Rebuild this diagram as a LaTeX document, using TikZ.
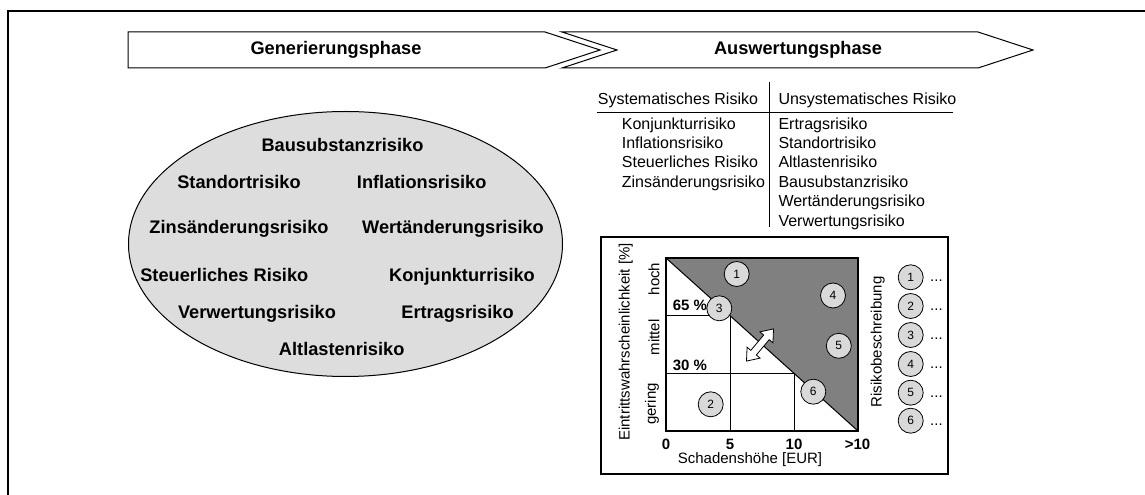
\documentclass[tikz,border=0pt]{standalone}
\usepackage{fontspec}
\setmainfont{Liberation Sans}
\usetikzlibrary{shapes.geometric}
\definecolor{ellgray}{RGB}{221,221,221}
\definecolor{circgray}{RGB}{217,217,217}
\definecolor{zonegray}{RGB}{128,128,128}
\begin{document}
\begin{tikzpicture}[x=1bp,y=-1bp,
  ellbold/.style={font=\fontsize{18.2bp}{20bp}\selectfont\bfseries, inner sep=0, anchor=base},
  phasetext/.style={font=\fontsize{18.2bp}{20bp}\selectfont\bfseries, inner sep=0},
  tabtext/.style={font=\fontsize{16bp}{18bp}\selectfont, inner sep=0, anchor=base west},
  charttext/.style={font=\fontsize{15bp}{17bp}\selectfont, inner sep=0},
  chartbold/.style={font=\fontsize{15bp}{17bp}\selectfont\bfseries, inner sep=0},
  riskcirc/.style={circle, draw, line width=0.8bp, fill=circgray, minimum size=25bp, inner sep=0,
    font=\fontsize{12bp}{12bp}\selectfont},
  thinline/.style={line width=1bp},
]
\useasboundingbox (0,0) rectangle (1145,495);

% outer frame (top and left edges)
\draw[line width=2bp] (7.5,495) -- (7.5,11) -- (1145,11);

% phase arrows
\draw[thinline, fill=white] (128,32) -- (545,32) -- (600,50) -- (545,68) -- (128,68) -- cycle;
\draw[thinline, fill=white] (562,32) -- (978,32) -- (1033,50) -- (978,68) -- (562,68) -- (617,50) -- cycle;
\node[phasetext] (gen) at (336,50) {Generierungsphase};
\node[phasetext] (ausw) at (798,50) {Auswertungsphase};

% pool of risks
\node[ellipse, draw, thinline, fill=ellgray, minimum width=434bp, minimum height=265bp, inner sep=0]
  (pool) at (345.5,244) {};
\node[ellbold] (r1) at (342.5,151.6) {Bausubstanzrisiko};
\node[ellbold] (r2) at (239,188.3) {Standortrisiko};
\node[ellbold] (r3) at (421.7,188.3) {Inflationsrisiko};
\node[ellbold] (r4) at (239,234) {Zinsänderungsrisiko};
\node[ellbold] (r5) at (453,234) {Wertänderungsrisiko};
\node[ellbold] (r6) at (224.3,281.6) {Steuerliches Risiko};
\node[ellbold] (r7) at (462,281.6) {Konjunkturrisiko};
\node[ellbold] (r8) at (257,318.3) {Verwertungsrisiko};
\node[ellbold] (r9) at (457.5,318.3) {Ertragsrisiko};
\node[ellbold] (r10) at (341.7,356) {Altlastenrisiko};

% classification table
\draw[thinline] (769,82) -- (769,227);
\draw[line width=1.3bp] (597,112.3) -- (953,112.3);
\node[tabtext, anchor=base] (hsys) at (678,104.1) {Systematisches Risiko};
\node[tabtext] (hunsys) at (778.3,104.1) {Unsystematisches Risiko};
\node[tabtext] (s1) at (621.7,129.1) {Konjunkturrisiko};
\node[tabtext] (s2) at (621.7,148.5) {Inflationsrisiko};
\node[tabtext] (s3) at (621.7,167.9) {Steuerliches Risiko};
\node[tabtext] (s4) at (621.7,187.3) {Zinsänderungsrisiko};
\node[tabtext] (u1) at (778.3,129.1) {Ertragsrisiko};
\node[tabtext] (u2) at (778.3,148.5) {Standortrisiko};
\node[tabtext] (u3) at (778.3,167.9) {Altlastenrisiko};
\node[tabtext] (u4) at (778.3,187.3) {Bausubstanzrisiko};
\node[tabtext] (u5) at (778.3,206.7) {Wertänderungsrisiko};
\node[tabtext] (u6) at (778.3,226.1) {Verwertungsrisiko};

% risk matrix panel
\draw[line width=1.2bp] (601,237) rectangle (948,474);
\fill[zonegray] (666,258) -- (858,258) -- (858,431) -- cycle;
\draw[thinline] (666,258) -- (858,431);
\draw[thinline] (666,315.7) -- (730,315.7) (730,315.7) -- (730,431);
\draw[thinline] (666,373.3) -- (794,373.3) (794,373.3) -- (794,431);
\draw[line width=2.7bp] (666,258) rectangle (858,431);

% shift arrow across the boundary
\begin{scope}[shift={(760,345)}, rotate=50]
  \draw[line width=0.8bp, fill=white]
    (-21,0) -- (-10,8.5) -- (-10,3.6) -- (10,3.6) -- (10,8.5) -- (21,0)
    -- (10,-8.5) -- (10,-3.6) -- (-10,-3.6) -- (-10,-8.5) -- cycle;
\end{scope}

% axis texts
\node[charttext, rotate=90] (ylab) at (625.7,342) {Eintrittswahrscheinlichkeit [\%]};
\node[charttext, rotate=90] (yh) at (654,279) {hoch};
\node[charttext, rotate=90] (ym) at (654,337.5) {mittel};
\node[charttext, rotate=90] (yg) at (652,404) {gering};
\node[chartbold, anchor=base west] (p65) at (672.7,311) {65 \%};
\node[chartbold, anchor=base west] (p30) at (672.7,370.5) {30 \%};
\node[chartbold, anchor=base] (x0) at (666,449.4) {0};
\node[chartbold, anchor=base] (x5) at (730,449.4) {5};
\node[chartbold, anchor=base] (x10) at (794,449.4) {10};
\node[chartbold, anchor=base] (x11) at (857.5,449.4) {>10};
\node[charttext, anchor=base] (xlab) at (750,463.4) {Schadenshöhe [EUR]};

% risks placed in the matrix
\node[riskcirc] (c1) at (736.7,274) {1};
\node[riskcirc] (c2) at (710.7,404.3) {2};
\node[riskcirc] (c3) at (719.3,308.3) {3};
\node[riskcirc] (c4) at (833,295.5) {4};
\node[riskcirc] (c5) at (838.8,345.8) {5};
\node[riskcirc] (c6) at (813.3,391.7) {6};

% risk description list
\node[charttext, rotate=90] (rlab) at (877.7,342) {Risikobeschreibung};
\foreach \i/\yy in {1/277.3, 2/306, 3/335, 4/364, 5/392.7, 6/420.7} {
  \node[riskcirc] (l\i) at (910.7,\yy) {\i};
  \node[charttext, anchor=base west] (d\i) at (930,\yy+4.5) {...};
}
\end{tikzpicture}
\end{document}
